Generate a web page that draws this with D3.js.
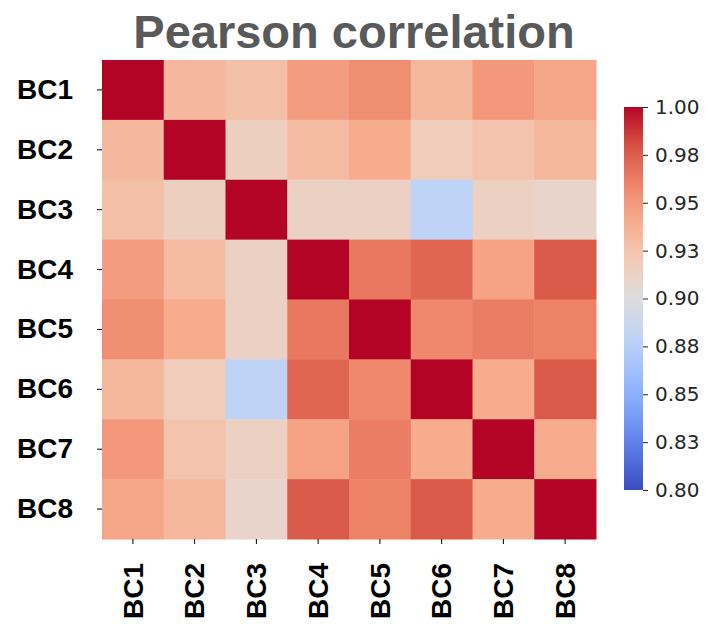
<!DOCTYPE html>
<html lang="en">
<head>
    <meta charset="UTF-8">
    <title>Pearson correlation</title>
    <script src="https://d3js.org/d3.v7.min.js"></script>
    <style>
        body { margin: 0; background: #fff; }
        svg { display: block; }
    </style>
</head>
<body>
<div id="chart"></div>
<script>
    // categories
    const labels = ["BC1", "BC2", "BC3", "BC4", "BC5", "BC6", "BC7", "BC8"];

    // correlation rows
    const rowBC1 = [1.000, 0.932, 0.928, 0.948, 0.955, 0.933, 0.950, 0.943];
    const rowBC2 = [0.932, 1.000, 0.915, 0.930, 0.940, 0.918, 0.925, 0.933];
    const rowBC3 = [0.928, 0.915, 1.000, 0.913, 0.913, 0.879, 0.914, 0.910];
    const rowBC4 = [0.948, 0.930, 0.913, 1.000, 0.965, 0.972, 0.945, 0.977];
    const rowBC5 = [0.955, 0.940, 0.913, 0.965, 1.000, 0.958, 0.963, 0.961];
    const rowBC6 = [0.933, 0.918, 0.879, 0.972, 0.958, 1.000, 0.940, 0.977];
    const rowBC7 = [0.950, 0.925, 0.914, 0.945, 0.963, 0.940, 1.000, 0.940];
    const rowBC8 = [0.943, 0.933, 0.910, 0.977, 0.961, 0.977, 0.940, 1.000];
    const rows = [rowBC1, rowBC2, rowBC3, rowBC4, rowBC5, rowBC6, rowBC7, rowBC8];

    // colorbar ticks
    const cbTicks = [0.80, 0.825, 0.85, 0.875, 0.90, 0.925, 0.95, 0.975, 1.00];
    const cbTickLabels = ["0.80", "0.83", "0.85", "0.88", "0.90", "0.93", "0.95", "0.98", "1.00"];

    // coolwarm colormap samples
    const coolwarm = ["#3b4cc0", "#5977e3", "#7b9ff9", "#9ebeff", "#c0d4f5", "#dddcdc",
                      "#f2cbb7", "#f7ac8e", "#ee8468", "#d65244", "#b40426"];

    const W = 708, H = 624;
    const svg = d3.select("#chart").append("svg")
        .attr("width", W).attr("height", H);

    const interp = d3.piecewise(d3.interpolateRgb, coolwarm);
    const color = d3.scaleSequential(interp).domain([0.8, 1.0]);

    const x = d3.scaleBand().domain(labels).range([102, 596]);
    const y = d3.scaleBand().domain(labels).range([60, 539]);

    // cells
    const cells = [];
    rows.forEach((r, i) => r.forEach((v, j) => cells.push({row: labels[i], col: labels[j], v})));

    svg.append("g").selectAll("rect")
        .data(cells)
        .join("rect")
        .attr("x", d => x(d.col))
        .attr("y", d => y(d.row))
        .attr("width", x.bandwidth() + 0.5)
        .attr("height", y.bandwidth() + 0.5)
        .attr("fill", d => color(d.v));

    // title
    svg.append("text")
        .attr("x", 354)
        .attr("y", 48)
        .attr("text-anchor", "middle")
        .style("font-family", "'Liberation Sans', Arial, sans-serif")
        .style("font-weight", "bold")
        .style("font-size", "47px")
        .style("fill", "#595959")
        .text("Pearson correlation");

    // y axis
    const yAxis = svg.append("g")
        .attr("transform", "translate(102,0)")
        .call(d3.axisLeft(y).tickSize(5).tickPadding(24));
    yAxis.select(".domain").remove();
    yAxis.selectAll("text")
        .style("font-family", "'Liberation Sans', Arial, sans-serif")
        .style("font-weight", "bold")
        .style("font-size", "28px")
        .style("fill", "#000");

    // x axis
    const xAxis = svg.append("g")
        .attr("transform", "translate(0,539)")
        .call(d3.axisBottom(x).tickSize(5));
    xAxis.select(".domain").remove();
    xAxis.selectAll("text")
        .attr("transform", "rotate(-90)")
        .attr("x", -24)
        .attr("y", 0)
        .attr("dy", "0.35em")
        .attr("text-anchor", "end")
        .style("font-family", "'Liberation Sans', Arial, sans-serif")
        .style("font-weight", "bold")
        .style("font-size", "28px")
        .style("fill", "#000");

    // colorbar
    const cbX = 624, cbW = 19;
    const cbScale = d3.scaleLinear().domain([0.8, 1.0]).range([490, 107]);

    const grad = svg.append("defs").append("linearGradient")
        .attr("id", "cbgrad")
        .attr("x1", 0).attr("y1", 1).attr("x2", 0).attr("y2", 0);
    d3.range(0, 1.0001, 0.05).forEach(t => {
        grad.append("stop")
            .attr("offset", t)
            .attr("stop-color", interp(t));
    });

    svg.append("rect")
        .attr("x", cbX)
        .attr("y", cbScale(1.0))
        .attr("width", cbW)
        .attr("height", cbScale(0.8) - cbScale(1.0))
        .attr("fill", "url(#cbgrad)");

    const cbAxis = svg.append("g")
        .attr("transform", `translate(${cbX + cbW},0)`)
        .call(d3.axisRight(cbScale)
            .tickValues(cbTicks)
            .tickFormat((d, i) => cbTickLabels[i])
            .tickSize(5)
            .tickPadding(7));
    cbAxis.select(".domain").remove();
    cbAxis.selectAll("line").attr("stroke", "#262626");
    cbAxis.selectAll("text")
        .style("font-family", "'DejaVu Sans', sans-serif")
        .style("font-size", "20px")
        .style("fill", "#262626");
</script>
</body>
</html>
